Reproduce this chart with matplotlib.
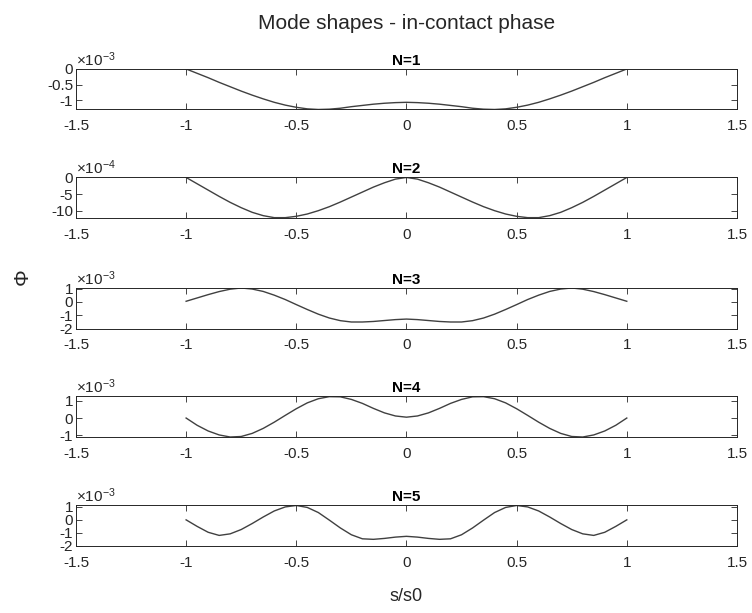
import numpy as np
import matplotlib
matplotlib.use("Agg")
import matplotlib.pyplot as plt
from matplotlib.ticker import FuncFormatter

plt.rcParams['font.family'] = ['Liberation Sans', 'DejaVu Sans']
plt.rcParams['mathtext.fontset'] = 'custom'
plt.rcParams['mathtext.rm'] = 'Liberation Sans'

# normalised arc position s/s0
s = [-1.00, -0.95, -0.90, -0.85, -0.80, -0.75, -0.70, -0.65, -0.60, -0.55, -0.50,
     -0.45, -0.40, -0.35, -0.30, -0.25, -0.20, -0.15, -0.10, -0.05, 0.00,
     0.05, 0.10, 0.15, 0.20, 0.25, 0.30, 0.35, 0.40, 0.45, 0.50,
     0.55, 0.60, 0.65, 0.70, 0.75, 0.80, 0.85, 0.90, 0.95, 1.00]

# mode shapes (values in units of the exponent shown on each panel)
phi1 = [0.00, -0.14, -0.28, -0.43, -0.57, -0.71, -0.84, -0.96, -1.07, -1.16, -1.23,
        -1.28, -1.30, -1.29, -1.26, -1.21, -1.17, -1.13, -1.10, -1.08, -1.07,
        -1.08, -1.10, -1.13, -1.17, -1.21, -1.26, -1.29, -1.30, -1.28, -1.23,
        -1.16, -1.07, -0.96, -0.84, -0.71, -0.57, -0.43, -0.28, -0.14, 0.00]
phi2 = [0.0, -1.9, -3.8, -5.7, -7.5, -9.1, -10.5, -11.5, -12.1, -12.1, -11.7,
        -11.0, -10.0, -8.8, -7.4, -5.9, -4.4, -2.9, -1.6, -0.5, 0.0,
        -0.5, -1.6, -2.9, -4.4, -5.9, -7.4, -8.8, -10.0, -11.0, -11.7,
        -12.1, -12.1, -11.5, -10.5, -9.1, -7.5, -5.7, -3.8, -1.9, 0.0]
phi3 = [0.05, 0.30, 0.55, 0.78, 0.96, 1.05, 0.97, 0.79, 0.51, 0.18, -0.20,
        -0.57, -0.92, -1.21, -1.41, -1.51, -1.51, -1.47, -1.40, -1.33, -1.29,
        -1.33, -1.40, -1.47, -1.51, -1.51, -1.41, -1.21, -0.92, -0.57, -0.20,
        0.18, 0.51, 0.79, 0.97, 1.05, 0.96, 0.78, 0.55, 0.30, 0.05]
phi4 = [0.00, -0.42, -0.75, -0.98, -1.10, -1.07, -0.89, -0.60, -0.24, 0.155, 0.54,
        0.88, 1.12, 1.24, 1.23, 1.08, 0.85, 0.56, 0.30, 0.12, 0.05,
        0.12, 0.30, 0.56, 0.85, 1.08, 1.23, 1.24, 1.12, 0.88, 0.54,
        0.155, -0.24, -0.60, -0.89, -1.07, -1.10, -0.98, -0.75, -0.42, 0.00]
phi5 = [0.00, -0.50, -0.95, -1.19, -1.07, -0.74, -0.28, 0.22, 0.68, 0.99, 1.10,
        0.95, 0.56, -0.02, -0.62, -1.14, -1.45, -1.49, -1.42, -1.32, -1.26,
        -1.32, -1.42, -1.49, -1.45, -1.14, -0.62, -0.02, 0.56, 0.95, 1.10,
        0.99, 0.68, 0.22, -0.28, -0.74, -1.07, -1.19, -0.95, -0.50, 0.00]

modes = [phi1, phi2, phi3, phi4, phi5]
titles = ['N=1', 'N=2', 'N=3', 'N=4', 'N=5']
exponents = [-3, -4, -3, -3, -3]
ylims = [(-1.3, 0), (-12.2, 0), (-2, 1.05), (-1.1, 1.25), (-2, 1.1)]
yticks = [[-1, -0.5, 0], [-10, -5, 0], [-2, -1, 0, 1], [-1, 0, 1], [-2, -1, 0, 1]]
xticks = [-1.5, -1, -0.5, 0, 0.5, 1, 1.5]

fig = plt.figure(figsize=(7.52, 6.13), dpi=100)
fmt = FuncFormatter(lambda v, p: '%g' % v)

bottoms = [0.8214, 0.6444, 0.4641, 0.2871, 0.1093]
for i in range(5):
    ax = fig.add_axes([0.101, bottoms[i], 0.879, 0.0661])
    ax.plot(s, modes[i], color='#404040', linewidth=1.0)
    ax.set_xlim(-1.5, 1.5)
    ax.set_ylim(*ylims[i])
    ax.set_xticks(xticks)
    ax.set_yticks(yticks[i])
    ax.xaxis.set_major_formatter(fmt)
    ax.yaxis.set_major_formatter(fmt)
    ax.tick_params(direction='in', length=4, width=0.6, top=True, right=True,
                   labelsize=11, colors='#262626')
    ax.tick_params(axis='x', pad=7)
    ax.tick_params(axis='y', pad=2)
    for sp in ax.spines.values():
        sp.set_linewidth(0.7)
        sp.set_color('#262626')
    ax.set_title(titles[i], fontsize=11, fontweight='bold', pad=3)
    ax.text(0.0, 1.0, r'$\mathregular{\times10^{%d}}$' % exponents[i],
            transform=ax.transAxes, ha='left', va='bottom', fontsize=11,
            color='#262626')

fig.text(0.54, 0.962, 'Mode shapes - in-contact phase', ha='center', va='center',
         fontsize=15, color='#262626')
fig.text(0.54, 0.027, 's/s0', ha='center', va='center', fontsize=13, color='#262626')
fig.text(0.03, 0.548, 'Φ', ha='center', va='center', fontsize=15, rotation=90,
         color='#262626')

fig.savefig('out.png', dpi=100)
